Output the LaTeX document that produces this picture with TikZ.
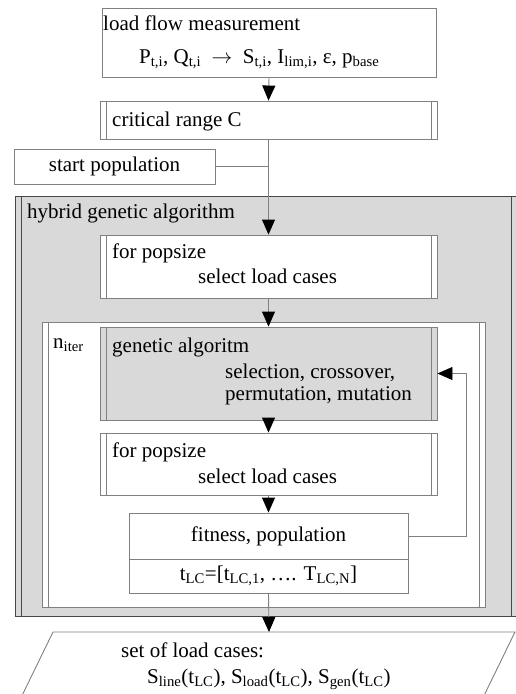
\documentclass[tikz,border=0pt]{standalone}
\usepackage{fontspec}
\setmainfont{Liberation Serif}
\usetikzlibrary{arrows.meta}

\definecolor{boxline}{gray}{0.5}
\definecolor{frameline}{gray}{0.28}
\definecolor{boxfill}{gray}{0.85}

\tikzset{
	every node/.style={font=\fontsize{21}{25}\selectfont},
	plainbox/.style={draw=boxline, line width=0.9pt, fill=white, inner sep=0pt},
	procbox/.style={plainbox, draw=#1, path picture={
		\draw[#1, line width=0.9pt] ([xshift=6pt]path picture bounding box.north west) -- ([xshift=6pt]path picture bounding box.south west);
		\draw[#1, line width=0.9pt] ([xshift=-6pt]path picture bounding box.north east) -- ([xshift=-6pt]path picture bounding box.south east);}},
	procbox/.default=boxline,
	txt/.style={anchor=base west, inner sep=0pt},
	link/.style={draw=boxline, line width=0.9pt},
	flow/.style={link, -{Triangle[length=15pt, width=13pt, color=black]}}
}

\begin{document}
\begin{tikzpicture}[x=1pt, y=-1pt]
	\useasboundingbox (0,0) rectangle (516,694);
%
	% frames
	\node[procbox=frameline, fill=boxfill, minimum width=502pt, minimum height=420pt] (hybrid) at (266,406) {};
	\node[procbox, minimum width=443pt, minimum height=285pt] (niter) at (263.5,464.5) {};
%
	% boxes
	\node[plainbox, minimum width=334pt, minimum height=69pt] (measure) at (269,42.5) {};
	\node[procbox, minimum width=337pt, minimum height=38pt] (critical) at (268.5,120) {};
	\node[plainbox, minimum width=201pt, minimum height=35pt] (startpop) at (114.5,166.5) {start population};
	\node[procbox, minimum width=337pt, minimum height=63pt] (popsizeA) at (268.5,266.5) {};
	\node[procbox, fill=boxfill, minimum width=337pt, minimum height=93pt] (genalg) at (268.5,373.5) {};
	\node[procbox, minimum width=337pt, minimum height=62pt] (popsizeB) at (268.5,464) {};
	\node[plainbox, minimum width=279pt, minimum height=46pt] (fitness) at (268.5,536) {fitness, population};
	\node[plainbox, minimum width=279pt, minimum height=34pt] (tlc) at (268.5,576) {t\textsubscript{LC}=[t\textsubscript{LC,1}, …. T\textsubscript{LC,N}]};
	\draw[link] (53,632) -- (515,632) -- (477,710) -- (15,710) -- cycle;
	\coordinate (lcset) at (269,632);
	\coordinate (loop) at (466,0);
%
	% connectors
	\draw[flow] (measure.south) -- (critical.north);
	\draw[flow] (critical.south) -- (popsizeA.north);
	\draw[link] (startpop.east) -- (startpop.east -| critical.south);
	\draw[flow] (popsizeA.south) -- (genalg.north);
	\draw[flow] (genalg.south) -- (popsizeB.north);
	\draw[flow] (popsizeB.south) -- (fitness.north);
	\draw[flow] (fitness.east) -| (loop |- genalg.east) -- (genalg.east);
	\draw[flow] (tlc.south) -- (lcset);
%
	% labels
	\node[txt] (measuretxt) at (103,30) {load flow measurement};
	\node[txt] (measurevars) at (139,63) {P\textsubscript{t,i}, Q\textsubscript{t,i}\ \ $\rightarrow$\ \ S\textsubscript{t,i}, I\textsubscript{lim,i}, ε, p\textsubscript{base}};
	\node[txt] (criticaltxt) at (112,126) {critical range C};
	\node[txt] (hybridtxt) at (27,218) {hybrid genetic algorithm};
	\node[txt] (popsizeAfor) at (112,258) {for popsize};
	\node[txt] (popsizeAsel) at (198,283) {select load cases};
	\node[txt] (nitertxt) at (53,348) {n\textsubscript{iter}};
	\node[txt] (genalgtxt) at (112,352) {genetic algoritm};
	\node[txt] (genalgops) at (225,378) {selection, crossover,};
	\node[txt] (genalgops2) at (225,400) {permutation, mutation};
	\node[txt] (popsizeBfor) at (112,457) {for popsize};
	\node[txt] (popsizeBsel) at (198,483) {select load cases};
	\node[txt] (lcsettxt) at (121,657) {set of load cases:};
	\node[txt] (lcsetvals) at (147,683) {S\textsubscript{line}(t\textsubscript{LC}), S\textsubscript{load}(t\textsubscript{LC}), S\textsubscript{gen}(t\textsubscript{LC})};
\end{tikzpicture}
\end{document}
